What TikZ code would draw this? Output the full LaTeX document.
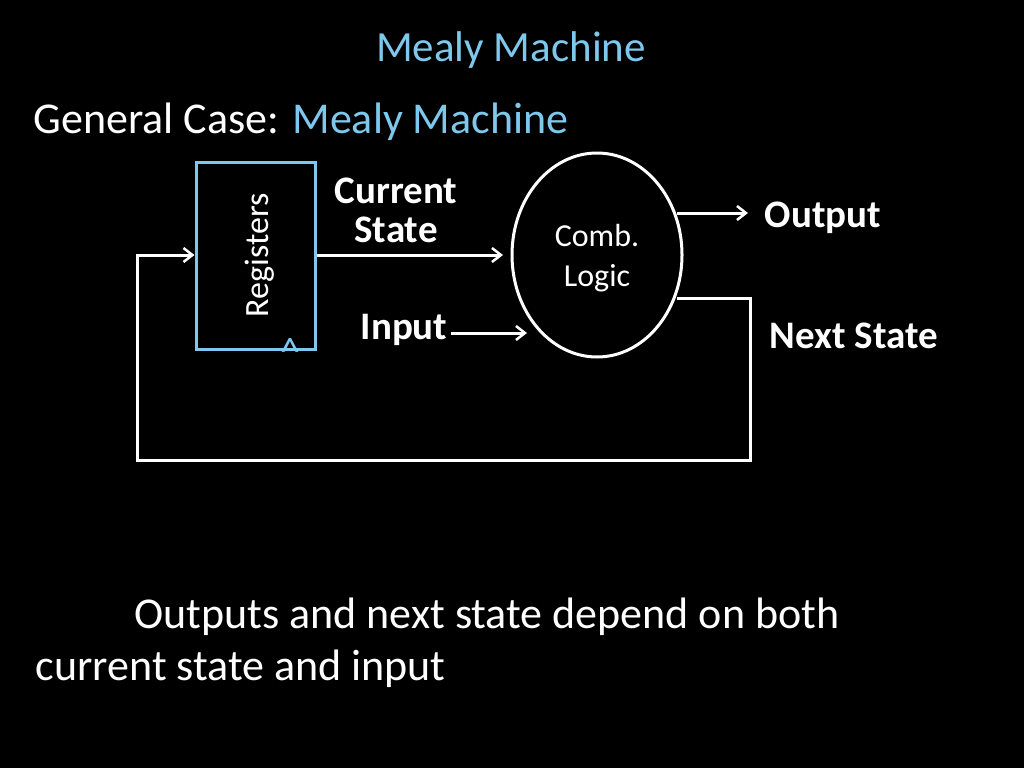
\documentclass[tikz,border=0pt]{standalone}
\usepackage{fontspec}
\setmainfont{Carlito}
\usetikzlibrary{positioning,arrows.meta,shapes.geometric}
\definecolor{slideblue}{HTML}{7DC8EC}
\tikzset{
  wire/.style={white, line width=3pt},
  tip/.style={wire, -{Straight Barb[length=9pt, width=14pt, line width=2.5pt]}},
  lbl/.style={white, font=\fontsize{39}{39}\selectfont\bfseries},
  txt/.style={white, font=\fontsize{44}{48}\selectfont, anchor=west}
}
\begin{document}
\begin{tikzpicture}[x=1pt,y=-1pt]
  \fill[black] (0,0) rectangle (1024,768);
  \useasboundingbox (0,0) rectangle (1024,768);
  % headings
  \node[slideblue, font=\fontsize{43}{43}\selectfont] (title) at (511,50) {Mealy Machine};
  \node[txt] (case) at (30,122) {General Case: \textcolor{slideblue}{Mealy Machine}};
  % blocks
  \node[draw=slideblue, line width=3pt, minimum width=119pt, minimum height=187pt] (reg) at (255.5,255.5) {};
  \node[white, rotate=90, font=\fontsize{34}{34}\selectfont] (regtxt) at (260,255) {Registers};
  \node[slideblue, font=\fontsize{40}{40}\selectfont] (clk) at (290,352) {\^{}};
  \node[ellipse, draw=white, line width=3pt, minimum width=170pt, minimum height=204pt] (comb) at (597,255) {};
  \node[white, align=center, font=\fontsize{32}{40}\selectfont] (combtxt) at (597,258) {Comb.\\Logic};
  % labels
  \node[lbl, align=center] (cur) at (396,210) {Current\\State};
  \node[lbl] (inp) at (404,330) {Input};
  \node[lbl] (out) at (823,218) {Output};
  \node[lbl] (nxt) at (854,336) {Next State};
  \coordinate (inend) at (527,333);
  \coordinate (outstart) at (677,213);
  \coordinate (outend) at (748,213);
  \coordinate (nsstart) at (677,298);
  \coordinate (regin) at (reg.west |- 0,255);
  % connectors
  \draw[tip] (reg.east |- 0,255) -- (503,255);
  \draw[tip] (inp.east |- 0,333) -- (inend);
  \draw[tip] (outstart) -- (outend);
  \draw[tip] (nsstart) -- (750,298) -- (750,460) -- (137,460) -- (137,255) -- (regin);
  % bottom text
  \node[txt] (note) at (131,617) {Outputs and next state depend on both};
  \node[txt] (note2) at (32,669) {current state and input};
\end{tikzpicture}
\end{document}
